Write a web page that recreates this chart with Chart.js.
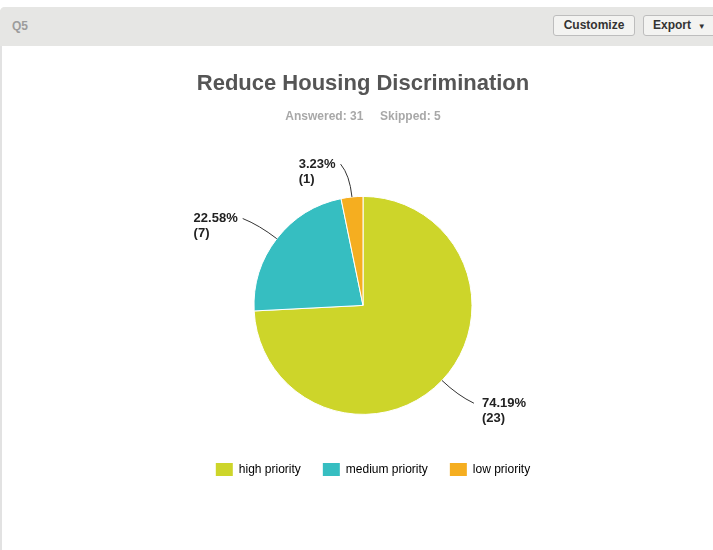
<!DOCTYPE html>
<html>
<head>
<meta charset="utf-8">
<script src="https://cdn.jsdelivr.net/npm/chart.js@4"></script>
<style>
  body { margin: 0; background: #fff; font-family: "Liberation Sans", Arial, sans-serif; }
  .wrap { position: relative; width: 713px; height: 550px; overflow: hidden; }
  .panel { position: absolute; left: 0; top: 7px; width: 740px; height: 560px; border-left: 2px solid #e2e2e2; border-top-left-radius: 5px; }
  .head { position: absolute; left: 0; top: 7px; width: 740px; height: 39px; background: #e6e6e4; border-top-left-radius: 5px; }
  .q { position: absolute; left: 12px; top: 12px; font-size: 12px; font-weight: bold; color: #9c9c9c; }
  .btn { position: absolute; top: 8px; height: 21px; box-sizing: border-box; border: 1px solid #bdbdbd; border-radius: 3px;
         background: #f3f3f1; font-size: 12px; font-weight: bold; color: #333; line-height: 19px; padding: 0 9px; }
  canvas { position: absolute; left: 2px; top: 46px; }
</style>
</head>
<body>
<div class="wrap">
  <div class="panel"></div>
  <div class="head">
    <div class="q">Q5</div>
    <div class="btn" style="left:553px;width:82px;text-align:center;padding:0">Customize</div>
    <div class="btn" style="left:643px;width:90px">Export &nbsp;<span style="font-size:8px">&#9660;</span></div>
  </div>
  <canvas id="pie" width="711" height="504"></canvas>
</div>
<script>
const categories = ['high priority', 'medium priority', 'low priority'];
const percents = [74.19, 22.58, 3.23];
const counts = [23, 7, 1];
const colors = ['#cdd52a', '#36bec1', '#f5ae20'];

// outside labels with curved leader lines
const leaderLabels = {
  id: 'leaderLabels',
  afterDatasetsDraw(chart) {
    const ctx = chart.ctx;
    const meta = chart.getDatasetMeta(0);
    ctx.save();
    ctx.font = 'bold 13px "Liberation Sans", Arial, sans-serif';
    ctx.fillStyle = '#222';
    ctx.strokeStyle = '#333';
    ctx.lineWidth = 1;
    meta.data.forEach((arc, i) => {
      const mid = (arc.startAngle + arc.endAngle) / 2;
      const r = arc.outerRadius;
      const dx = Math.cos(mid), dy = Math.sin(mid);
      const side = dx >= 0 ? 1 : -1;
      const sx = arc.x + dx * r, sy = arc.y + dy * r;
      const cx = arc.x + dx * (r + 22), cy = arc.y + dy * (r + 22);
      const ex = arc.x + dx * (r + 33) + side * 8, ey = arc.y + dy * (r + 33);
      ctx.beginPath();
      ctx.moveTo(sx, sy);
      ctx.quadraticCurveTo(cx, cy, ex, ey);
      ctx.stroke();
      const l1 = percents[i].toFixed(2) + '%';
      const l2 = '(' + counts[i] + ')';
      const w = Math.max(ctx.measureText(l1).width, ctx.measureText(l2).width);
      const tx = side > 0 ? ex + 8 : ex - 5 - w;
      ctx.textAlign = 'left';
      ctx.textBaseline = 'middle';
      ctx.fillText(l1, tx, ey);
      ctx.fillText(l2, tx, ey + 15);
    });
    ctx.restore();
  }
};

// nudge the legend row a little to the right, as in the original
const legendShift = {
  id: 'legendShift',
  afterLayout(chart) {
    chart.legend.left += 10;
    chart.legend.right += 10;
  }
};

new Chart(document.getElementById('pie').getContext('2d'), {
  type: 'pie',
  data: {
    labels: categories,
    datasets: [{
      data: percents,
      backgroundColor: colors,
      borderColor: '#fff',
      borderWidth: 1
    }]
  },
  options: {
    responsive: false,
    animation: false,
    radius: 109,
    layout: { padding: { left: 11, right: 0, top: 0, bottom: 64 } },
    plugins: {
      title: {
        display: true,
        text: 'Reduce Housing Discrimination',
        color: '#555',
        font: { family: '"Liberation Sans", Arial, sans-serif', size: 22, weight: 'bold' },
        padding: { top: 25, bottom: 12 }
      },
      subtitle: {
        display: true,
        text: 'Answered: 31     Skipped: 5',
        color: '#a8a8a8',
        font: { family: '"Liberation Sans", Arial, sans-serif', size: 12, weight: 'bold' },
        padding: { top: 0, bottom: 46 }
      },
      legend: {
        position: 'bottom',
        labels: {
          boxWidth: 17,
          boxHeight: 13,
          padding: 22,
          color: '#333',
          useBorderRadius: true,
          borderRadius: 2,
          font: { family: '"Liberation Sans", Arial, sans-serif', size: 12 },
          generateLabels: (chart) => categories.map((c, i) => ({
            text: c, fillStyle: colors[i], strokeStyle: colors[i], lineWidth: 0, index: i, hidden: false
          }))
        }
      },
      tooltip: { enabled: false }
    }
  },
  plugins: [leaderLabels, legendShift]
});
</script>
</body>
</html>
